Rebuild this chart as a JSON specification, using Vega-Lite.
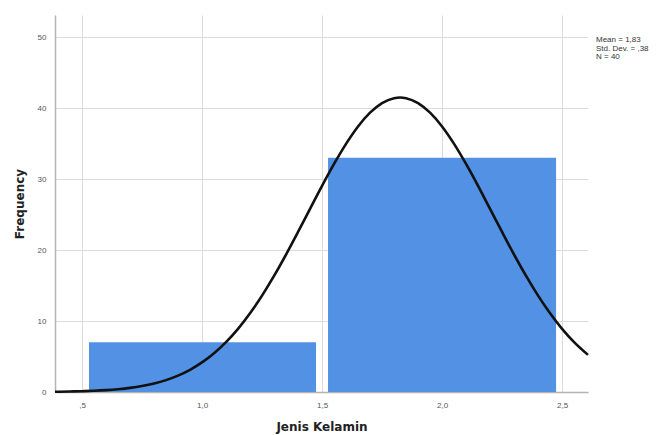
{
  "$schema": "https://vega.github.io/schema/vega-lite/v6.json",
  "width": 533,
  "height": 377,
  "autosize": {"type": "none"},
  "padding": {"left": 55, "top": 15, "right": 73, "bottom": 43},
  "background": "white",
  "view": {"stroke": null},
  "config": {
    "font": "Liberation Sans",
    "axis": {
      "domainColor": "#b4b4b4",
      "domainWidth": 1.5,
      "gridColor": "#dcdcdc",
      "gridWidth": 1,
      "ticks": false,
      "labelColor": "#555555",
      "labelFontSize": 8,
      "titleColor": "#222222",
      "titleFont": "DejaVu Sans",
      "titleFontSize": 12,
      "titleFontWeight": "bold"
    }
  },
  "layer": [
    {
      "data": {"values": [
        {"lo": 0.529, "hi": 1.475, "count": 7},
        {"lo": 1.525, "hi": 2.475, "count": 33}
      ]},
      "mark": {"type": "rect", "color": "#5291e4"},
      "encoding": {
        "x": {"field": "lo", "type": "quantitative",
              "scale": {"domain": [0.3875, 2.608], "nice": false, "zero": false},
              "axis": {"values": [0.5, 1, 1.5, 2, 2.5], "labelPadding": 9, "titlePadding": 12,
                       "labelExpr": "datum.value == 0.5 ? ',5' : replace(format(datum.value, '.1f'), '.', ',')"},
              "title": "Jenis Kelamin"},
        "x2": {"field": "hi"},
        "y": {"field": "count", "type": "quantitative",
              "scale": {"domain": [0, 53.1], "nice": false},
              "axis": {"values": [0, 10, 20, 30, 40, 50], "labelPadding": 9, "titlePadding": 11},
              "title": "Frequency"},
        "y2": {"datum": 0}
      }
    },
    {
      "data": {"values": [
        {"x": 0.3875, "f": 0.039}, {"x": 0.40, "f": 0.044}, {"x": 0.45, "f": 0.070},
        {"x": 0.50, "f": 0.110}, {"x": 0.55, "f": 0.171}, {"x": 0.60, "f": 0.261},
        {"x": 0.65, "f": 0.392}, {"x": 0.70, "f": 0.578}, {"x": 0.75, "f": 0.838},
        {"x": 0.80, "f": 1.194}, {"x": 0.85, "f": 1.674}, {"x": 0.90, "f": 2.307},
        {"x": 0.95, "f": 3.127}, {"x": 1.00, "f": 4.165}, {"x": 1.05, "f": 5.46},
        {"x": 1.10, "f": 7.03}, {"x": 1.15, "f": 8.90}, {"x": 1.20, "f": 11.09},
        {"x": 1.25, "f": 13.58}, {"x": 1.30, "f": 16.35}, {"x": 1.35, "f": 19.36},
        {"x": 1.40, "f": 22.54}, {"x": 1.45, "f": 25.79}, {"x": 1.50, "f": 29.03},
        {"x": 1.55, "f": 32.12}, {"x": 1.60, "f": 34.95}, {"x": 1.65, "f": 37.40},
        {"x": 1.70, "f": 39.34}, {"x": 1.75, "f": 40.69}, {"x": 1.80, "f": 41.38},
        {"x": 1.825, "f": 41.47}, {"x": 1.85, "f": 41.38}, {"x": 1.90, "f": 40.69},
        {"x": 1.95, "f": 39.34}, {"x": 2.00, "f": 37.40}, {"x": 2.05, "f": 34.95},
        {"x": 2.10, "f": 32.12}, {"x": 2.15, "f": 29.03}, {"x": 2.20, "f": 25.79},
        {"x": 2.25, "f": 22.54}, {"x": 2.30, "f": 19.36}, {"x": 2.35, "f": 16.35},
        {"x": 2.40, "f": 13.58}, {"x": 2.45, "f": 11.09}, {"x": 2.50, "f": 8.90},
        {"x": 2.55, "f": 7.03}, {"x": 2.608, "f": 5.23}
      ]},
      "mark": {"type": "line", "color": "#111111", "strokeWidth": 2.6, "interpolate": "monotone"},
      "encoding": {
        "x": {"field": "x", "type": "quantitative"},
        "y": {"field": "f", "type": "quantitative"}
      }
    },
    {
      "data": {"values": [
        {"stat": "Mean = 1,83"},
        {"stat": "Std. Dev. = ,38"},
        {"stat": "N = 40"}
      ]},
      "mark": {"type": "point", "opacity": 0},
      "encoding": {
        "color": {"field": "stat", "type": "nominal",
                  "scale": {"domain": ["Mean = 1,83", "Std. Dev. = ,38", "N = 40"], "range": ["#ffffff", "#ffffff", "#ffffff"]},
                  "legend": {"title": null, "orient": "none", "legendX": 533, "legendY": 21,
                             "symbolSize": 0, "symbolOpacity": 0, "symbolStrokeWidth": 0,
                             "labelFontSize": 8, "labelColor": "#333333", "labelOffset": 0,
                             "rowPadding": 0.5, "padding": 0, "labelLimit": 200}}
      }
    }
  ]
}
